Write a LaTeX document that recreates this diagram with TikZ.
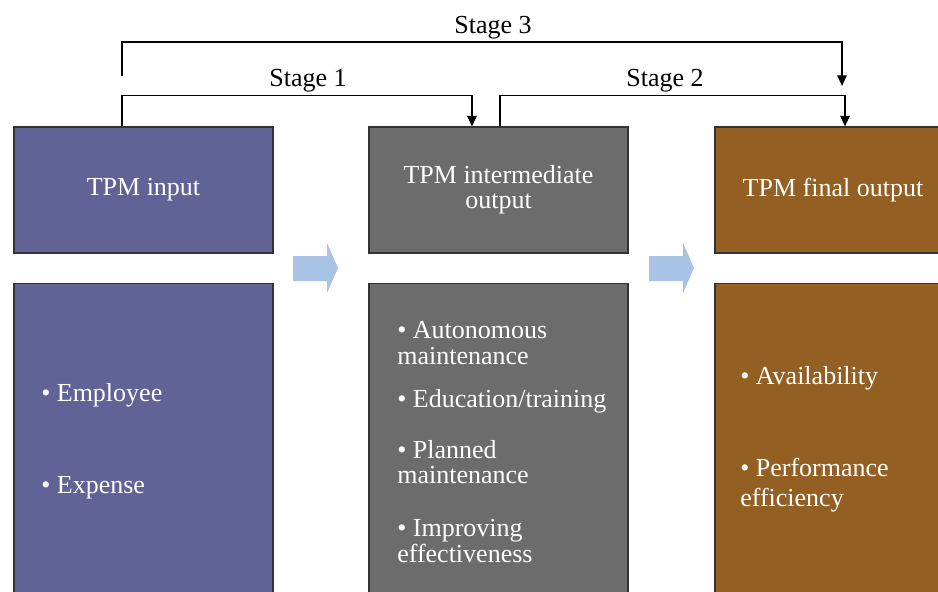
\documentclass[tikz,border=0pt]{standalone}
\usepackage{fontspec}
\setmainfont{Liberation Serif}
\usetikzlibrary{positioning,arrows.meta}
\definecolor{tpmpurple}{HTML}{616295}
\definecolor{tpmgrey}{HTML}{6C6C6C}
\definecolor{tpmbrown}{HTML}{935F22}
\definecolor{tpmblue}{HTML}{A9C3E6}
\tikzset{
    every node/.style={font=\fontsize{19.5}{19}\selectfont},
    headbox/.style={draw=black!80, line width=0.8pt, minimum width=194.25pt, minimum height=94.5pt, text=white, align=center, inner sep=0pt},
    listbox/.style={draw=black!80, line width=0.8pt, minimum width=194.25pt, minimum height=240pt, inner sep=0pt},
    itemtext/.style={text=white, align=left, anchor=west, inner sep=0pt, font=\fontsize{19.5}{19}\selectfont},
    stagelabel/.style={inner sep=0pt},
    stageline/.style={line width=1.4pt},
    stagearrow/.style={line width=1.4pt, -{Triangle[length=8pt,width=7pt]}},
}
\begin{document}
\begin{tikzpicture}[x=0.75pt, y=-0.75pt]
% picture size as the reference (in px)
\useasboundingbox (0,0) rectangle (938,592);
\def\gap{21.75pt}
% top boxes
\node[headbox, fill=tpmpurple] (inhead) at (143.5,190) {TPM input};
\node[headbox, fill=tpmgrey] (midhead) at (498.5,190) {TPM intermediate\\output};
\node[headbox, fill=tpmbrown, minimum width=177pt] (outhead) at (833,190) {TPM final output};
% list boxes
\node[listbox, fill=tpmpurple, below=\gap of inhead] (inlist) {};
\node[listbox, fill=tpmgrey, below=\gap of midhead] (midlist) {};
\node[listbox, fill=tpmbrown, minimum width=177pt, below=\gap of outhead] (outlist) {};
% items
\node[itemtext] (employee) at (41,395) {• Employee};
\node[itemtext] (expense) at (41,488) {• Expense};
\node[itemtext] (autonomous) at (397,343) {• Autonomous\\maintenance};
\node[itemtext] (education) at (397,401) {• Education/training};
\node[itemtext] (planned) at (397,462) {• Planned\\maintenance};
\node[itemtext] (improving) at (397,541) {• Improving\\effectiveness};
\node[itemtext] (availability) at (740,378) {• Availability};
\node[itemtext, font=\fontsize{19.5}{22}\selectfont] (performance) at (740,485) {• Performance\\efficiency};
% flow arrows
\foreach \ax in {293,649}{
  \fill[tpmblue] (\ax,256) -- ++(34,0) -- ++(0,-13) -- ++(11,25) -- ++(-11,25) -- ++(0,-12) -- ++(-34,0) -- cycle;
}
% stages
\coordinate (s3start) at (122,76);
\coordinate (s3end) at (842,86);
\draw[stagearrow] (s3start) -- ++(0,-34) -| (s3end);
\draw[stagearrow] ([xshift=-16.1pt]inhead.north) -- ++(0,-31) -| ([xshift=-19.9pt]midhead.north);
\draw[stagearrow] ([xshift=1.1pt]midhead.north) -- ++(0,-31) -| ([xshift=9pt]outhead.north);
\node[stagelabel] (stage3) at (493,28) {Stage 3};
\node[stagelabel] (stage1) at (308,81) {Stage 1};
\node[stagelabel] (stage2) at (665,81) {Stage 2};
\end{tikzpicture}
\end{document}
